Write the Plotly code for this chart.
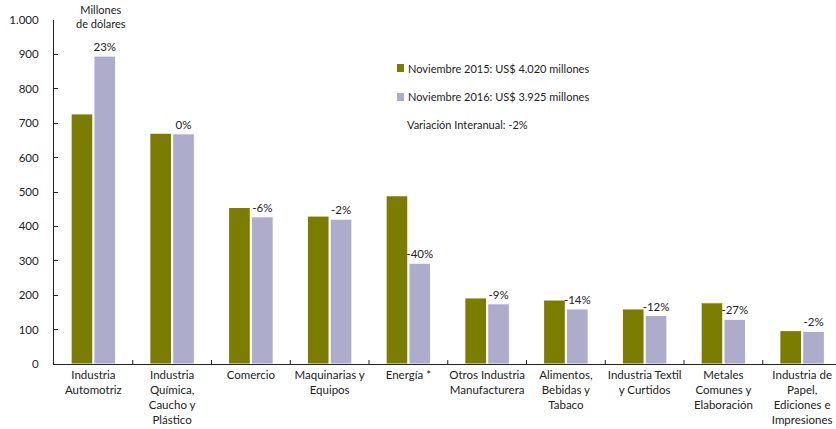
import plotly.graph_objects as go

categorias = [
    "Industria<br>Automotriz",
    "Industria<br>Química,<br>Caucho y<br>Plástico",
    "Comercio",
    "Maquinarias y<br>Equipos",
    "Energía *",
    "Otros Industria<br>Manufacturera",
    "Alimentos,<br>Bebidas y<br>Tabaco",
    "Industria Textil<br>y Curtidos",
    "Metales<br>Comunes y<br>Elaboración",
    "Industria de<br>Papel,<br>Ediciones e<br>Impresiones",
]
nov_2015 = [727, 671, 455, 430, 489, 192, 186, 160, 178, 97]
nov_2016 = [895, 669, 428, 421, 293, 175, 160, 141, 130, 95]
variacion = ["23%", "0%", "-6%", "-2%", "-40%", "-9%", "-14%", "-12%", "-27%", "-2%"]
y_ticks = [0, 100, 200, 300, 400, 500, 600, 700, 800, 900, 1000]
y_tick_text = ["0", "100", "200", "300", "400", "500", "600", "700", "800", "900", "1.000"]

OLIVA = "#7a7d00"
LAVANDA = "#adadcb"
FUENTE = "Lato, 'Noto Sans', sans-serif"

x = list(range(len(categorias)))

fig = go.Figure()
fig.add_trace(go.Bar(
    x=x, y=nov_2015, name="Noviembre 2015: US$ 4.020 millones",
    marker=dict(color=OLIVA, line=dict(color="white", width=1)),
))
fig.add_trace(go.Bar(
    x=x, y=nov_2016, name="Noviembre 2016: US$ 3.925 millones",
    marker=dict(color=LAVANDA, line=dict(color="white", width=1)),
    text=variacion, textposition="outside", cliponaxis=False,
    textfont=dict(size=11.5, color="#222222", family=FUENTE),
))

# Legend drawn as small squares with text
leyenda = [
    (OLIVA, "Noviembre 2015: US$ 4.020 millones", 68),
    (LAVANDA, "Noviembre 2016: US$ 3.925 millones", 97),
]
for color, texto, ypx in leyenda:
    fig.add_shape(type="rect", xref="paper", yref="paper",
                  x0=(397 - 54) / 782, x1=(404 - 54) / 782,
                  y0=(364 - ypx - 4) / 344, y1=(364 - ypx + 4) / 344,
                  fillcolor=color, line=dict(width=0))
    fig.add_annotation(xref="paper", yref="paper", x=(406 - 54) / 782, y=(364 - ypx) / 344,
                       text=texto, showarrow=False, xanchor="left", yanchor="middle",
                       font=dict(size=11, color="#222222", family=FUENTE))
fig.add_annotation(xref="paper", yref="paper", x=(405 - 54) / 782, y=(364 - 124) / 344,
                   text="Variación Interanual: -2%", showarrow=False,
                   xanchor="left", yanchor="middle",
                   font=dict(size=11, color="#222222", family=FUENTE))
fig.add_annotation(xref="paper", yref="paper", x=(101 - 54) / 782, y=(364 - 17) / 344,
                   text="Millones<br>de dólares", showarrow=False,
                   xanchor="center", yanchor="middle", align="center",
                   font=dict(size=11, color="#222222", family=FUENTE))

fig.update_layout(
    width=836, height=429,
    margin=dict(l=54, r=0, t=20, b=65),
    paper_bgcolor="white", plot_bgcolor="white",
    barmode="group", bargap=0.42, bargroupgap=0.05,
    showlegend=False,
    uniformtext=dict(minsize=11.5, mode="show"),
    font=dict(family=FUENTE, size=11.5, color="#222222"),
    xaxis=dict(
        tickmode="array", tickvals=x, ticktext=categorias,
        range=[-0.5, 9.43], showgrid=False,
        showline=True, linecolor="#222222", linewidth=1,
        ticks="", tickfont=dict(size=11.5), zeroline=False,
    ),
    yaxis=dict(
        range=[0, 1000], tickvals=y_ticks, ticktext=y_tick_text,
        showgrid=False, zeroline=False,
        showline=True, linecolor="#222222", linewidth=1,
        ticks="inside", ticklen=4, tickcolor="#222222",
        tickfont=dict(size=11.5), ticklabelstandoff=12,
    ),
)

# Small upward tick marks at the category boundaries
for i in range(1, len(categorias)):
    fig.add_shape(type="line", xref="x", yref="paper",
                  x0=i - 0.5, x1=i - 0.5, y0=0, y1=4 / 344,
                  line=dict(color="#222222", width=1))

fig.write_html("out.html")
